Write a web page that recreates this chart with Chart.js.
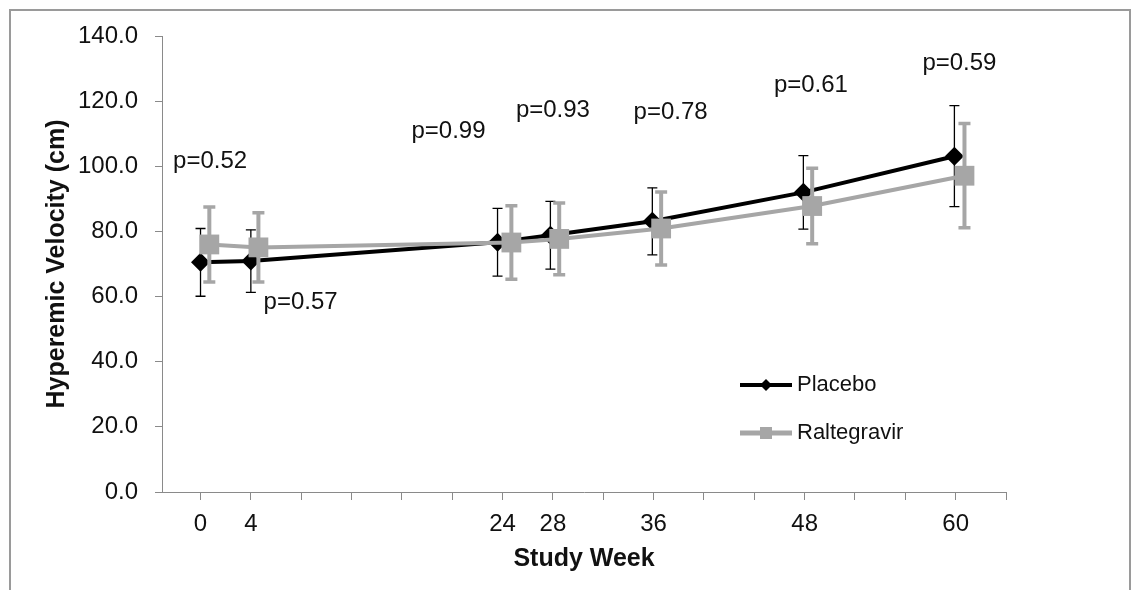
<!DOCTYPE html>
<html>
<head>
<meta charset="utf-8">
<script src="https://cdn.jsdelivr.net/npm/chart.js@4"></script>
<style>
  body { margin: 0; background: #fff; }
  #wrap { position: relative; width: 1131px; height: 590px; overflow: hidden; }
  #frame { position: absolute; left: 9px; top: 9px; width: 1122px; height: 620px; border: 2px solid #9a9a9a; box-sizing: border-box; }
  canvas { position: absolute; left: 0; top: 0; }
</style>
</head>
<body>
<div id="wrap">
  <div id="frame"></div>
  <canvas id="myChart" width="1131" height="590"></canvas>
</div>
<script>
// weeks that get a label on the x axis
var tickWeeks = [0, 4, 24, 28, 36, 48, 60];

// Placebo (black diamonds), mean and SD
var placeboWeek = [0, 4, 23.6, 27.8, 35.9, 47.9, 59.9];
var placeboMean = [70.5, 70.9, 76.7, 78.8, 83.1, 92.0, 103.1];
var placeboErr = [10.4, 9.6, 10.4, 10.4, 10.3, 11.3, 15.5];

// Raltegravir (grey squares), mean and SD
var raltWeek = [0.7, 4.6, 24.7, 28.5, 36.6, 48.6, 60.7];
var raltMean = [76.0, 75.1, 76.6, 77.7, 80.9, 87.8, 97.1];
var raltErr = [11.5, 10.6, 11.3, 11.0, 11.2, 11.6, 16.0];

// p-value notes
var pLabels = ["p=0.52", "p=0.57", "p=0.99", "p=0.93", "p=0.78", "p=0.61", "p=0.59"];
var pWeek = [0.76, 7.95, 19.7, 28.0, 37.35, 48.5, 60.3];
var pValue = [101.5, 58.2, 110.7, 117.2, 116.7, 124.9, 131.5];

var FONT = '"Liberation Sans", Arial, sans-serif';
var GREY = "#a6a6a6";
var AXIS = "#8a8a8a";

function points(xs, ys) {
  return xs.map(function (x, i) { return { x: x, y: ys[i] }; });
}

// little line+marker pictures for the legend
function legendGlyph(color, width, marker) {
  var c = document.createElement("canvas");
  c.width = 52; c.height = 16;
  var g = c.getContext("2d");
  g.strokeStyle = color; g.lineWidth = width;
  g.beginPath(); g.moveTo(0, 8); g.lineTo(52, 8); g.stroke();
  g.fillStyle = color;
  if (marker === "diamond") {
    g.beginPath(); g.moveTo(26, 2); g.lineTo(32, 8); g.lineTo(26, 14); g.lineTo(20, 8); g.closePath(); g.fill();
  } else {
    g.fillRect(20, 2, 12, 12);
  }
  return c;
}
var glyphs = [legendGlyph("#000", 4, "diamond"), legendGlyph(GREY, 5, "square")];

var errorBars = {
  id: "errorBars",
  beforeDatasetDraw: function (chart, args) {
    var ds = chart.data.datasets[args.index];
    var yScale = chart.scales.y;
    var ctx = chart.ctx;
    ctx.save();
    ctx.strokeStyle = ds.errorColor;
    args.meta.data.forEach(function (pt, i) {
      var v = ds.data[i].y, e = ds.errors[i];
      var top = yScale.getPixelForValue(v + e);
      var bottom = yScale.getPixelForValue(v - e);
      ctx.lineWidth = ds.errorWidth;
      ctx.beginPath();
      ctx.moveTo(pt.x, top); ctx.lineTo(pt.x, bottom);
      ctx.stroke();
      ctx.lineWidth = ds.capWidth;
      ctx.beginPath();
      ctx.moveTo(pt.x - ds.capSize, top); ctx.lineTo(pt.x + ds.capSize, top);
      ctx.moveTo(pt.x - ds.capSize, bottom); ctx.lineTo(pt.x + ds.capSize, bottom);
      ctx.stroke();
    });
    ctx.restore();
  }
};

var pNotes = {
  id: "pNotes",
  afterDatasetsDraw: function (chart) {
    var ctx = chart.ctx;
    ctx.save();
    ctx.font = "24px " + FONT;
    ctx.fillStyle = "#111";
    ctx.textAlign = "center";
    ctx.textBaseline = "middle";
    pLabels.forEach(function (t, i) {
      ctx.fillText(t, chart.scales.x.getPixelForValue(pWeek[i]), chart.scales.y.getPixelForValue(pValue[i]));
    });
    ctx.restore();
  }
};

// move the legend box into the lower right of the plot
var legendSpot = {
  id: "legendSpot",
  afterLayout: function (chart) {
    var lg = chart.legend;
    lg.left = 720; lg.right = 1000;
    lg.top = 348; lg.bottom = 490;
  }
};

new Chart("myChart", {
  type: "line",
  data: {
    datasets: [{
      label: "Placebo",
      data: points(placeboWeek, placeboMean),
      borderColor: "#000",
      backgroundColor: "#000",
      borderWidth: 4,
      pointStyle: "rectRot",
      pointRadius: 9.5,
      pointBorderWidth: 0,
      order: 2,
      errors: placeboErr,
      errorColor: "#000",
      errorWidth: 1.3,
      capWidth: 1.3,
      capSize: 5
    }, {
      label: "Raltegravir",
      data: points(raltWeek, raltMean),
      borderColor: GREY,
      backgroundColor: GREY,
      borderWidth: 4,
      pointStyle: "rect",
      pointRadius: 14,
      pointBorderWidth: 0,
      order: 1,
      errors: raltErr,
      errorColor: GREY,
      errorWidth: 4,
      capWidth: 3.5,
      capSize: 6
    }]
  },
  options: {
    responsive: false,
    animation: false,
    layout: { padding: { top: 36, right: 125, left: 0, bottom: 0 } },
    scales: {
      x: {
        type: "linear",
        min: -3.06,
        max: 64,
        grid: { drawOnChartArea: false, tickLength: 8, color: AXIS },
        border: { color: AXIS, width: 1 },
        ticks: {
          autoSkip: false,
          maxRotation: 0,
          padding: 10,
          color: "#111",
          font: { size: 24, family: FONT },
          callback: function (v) { return tickWeeks.indexOf(v) >= 0 ? String(v) : ""; }
        },
        // a tick every 4 weeks, labelled only at visit weeks
        afterBuildTicks: function (s) {
          var t = [];
          for (var w = 0; w <= 64; w += 4) t.push({ value: w });
          s.ticks = t;
        },
        title: {
          display: true,
          text: "Study Week",
          color: "#111",
          font: { size: 25, weight: "bold", family: FONT },
          padding: { top: 0, bottom: 16 }
        },
        afterFit: function (s) { s.height = 98; }
      },
      y: {
        min: 0,
        max: 140,
        grid: { drawOnChartArea: false, tickLength: 7, color: AXIS },
        border: { color: AXIS, width: 1 },
        ticks: {
          stepSize: 20,
          padding: 17,
          color: "#111",
          font: { size: 24, family: FONT },
          callback: function (v) { return v.toFixed(1); }
        },
        title: {
          display: true,
          text: "Hyperemic Velocity (cm)",
          color: "#111",
          font: { size: 25, weight: "bold", family: FONT },
          padding: { top: 42, bottom: 0 }
        },
        afterFit: function (s) { s.width = 162; }
      }
    },
    plugins: {
      tooltip: { enabled: false },
      legend: {
        position: "chartArea",
        align: "start",
        labels: {
          usePointStyle: true,
          pointStyleWidth: 40,
          padding: 26,
          color: "#111",
          font: { size: 22, family: FONT },
          sort: function (a, b) { return a.datasetIndex - b.datasetIndex; },
          generateLabels: function (chart) {
            var items = Chart.defaults.plugins.legend.labels.generateLabels(chart);
            items.forEach(function (it) { it.pointStyle = glyphs[it.datasetIndex]; });
            return items;
          }
        }
      }
    }
  },
  plugins: [errorBars, pNotes, legendSpot]
});
</script>
</body>
</html>
